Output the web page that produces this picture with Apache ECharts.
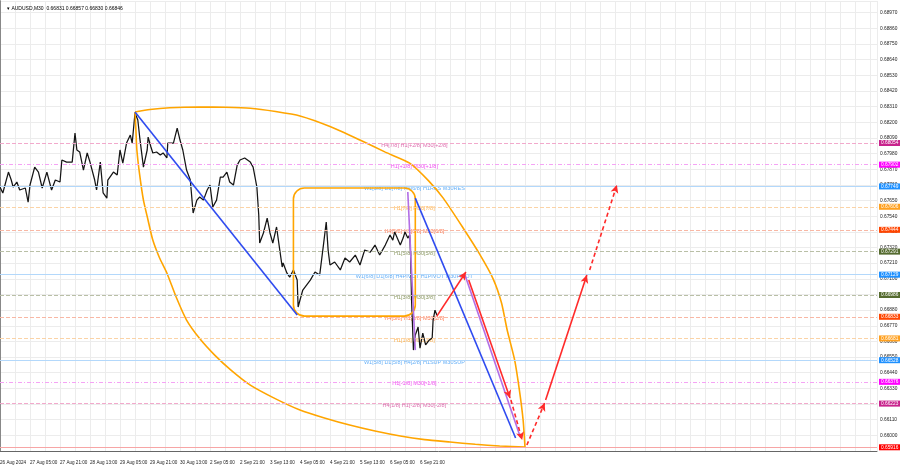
<!DOCTYPE html>
<html>
<head>
<meta charset="utf-8">
<script src="https://cdn.jsdelivr.net/npm/echarts@6.0.0/dist/echarts.min.js"></script>
<style>html,body{margin:0;padding:0;background:#fff}#c{width:900px;height:468px}</style>
</head>
<body>
<div id="c"></div>
<script>
// ---- data (bar index = M30 bars from 26 Aug 13:00) ----
const xTickLabels = ['26 Aug 2024','27 Aug 05:00','27 Aug 21:00','28 Aug 13:00','29 Aug 05:00','29 Aug 21:00','30 Aug 13:00','2 Sep 05:00','2 Sep 21:00','3 Sep 13:00','4 Sep 05:00','4 Sep 21:00','5 Sep 13:00','6 Sep 05:00','6 Sep 21:00'];

const priceBars = [0,3,9,12,14,18,21,27,30,32,37,41,45,50,55,59,64,66,71,77,80,82,85,89,93,96,101,103,107,110,114,115,121,125,128,131,135,139,141,144,
147,149,153,157,158,161,163,167,171,174,178,179,185,189,192,195,199,203,206,210,213,217,221,224,227,231,235,238,242,245,249,253,256,261,267,270,274,276,277,281,285,288,291,295,298,301,302,306,309,313,317,318,
320,323,327,331,336,341,345,348,350,352,357,363,368,373,379,384,389,395,400,405,411,416,419,421,427,430,432,435,437,438,439,441,443,446,448,451,454,458,461,462,464,466];
const priceValues = [0.67745,0.67703,0.67850,0.67794,0.67745,0.67780,0.67724,0.67738,0.67639,0.67759,0.67885,0.67850,0.67738,0.67850,0.67724,0.67794,0.67780,0.67935,0.67920,0.67920,0.68124,0.68005,0.67991,0.67864,0.67984,0.67920,0.67794,0.67724,0.67920,0.67703,0.67667,0.67794,0.67850,0.67829,0.68005,0.67913,0.68054,0.68110,0.68054,0.68265,
0.68216,0.68096,0.67885,0.68005,0.68096,0.68026,0.67984,0.67991,0.67970,0.67984,0.67949,0.68054,0.68054,0.68159,0.68075,0.68005,0.67864,0.67794,0.67562,0.67653,0.67675,0.67653,0.67724,0.67759,0.67604,0.67653,0.67815,0.67815,0.67850,0.67780,0.67759,0.67899,0.67935,0.67949,0.67920,0.67885,0.67745,0.67548,0.67351,0.67422,0.67527,0.67422,0.67351,0.67464,0.67323,0.67183,0.67211,0.67141,0.67112,0.67162,0.67091,0.66902,
0.66951,0.67021,0.67056,0.67091,0.67148,0.67126,0.67337,0.67499,0.67302,0.67197,0.67218,0.67162,0.67246,0.67218,0.67267,0.67197,0.67302,0.67288,0.67337,0.67267,0.67337,0.67408,0.67372,0.67429,0.67337,0.67386,0.67429,0.67386,0.67408,0.67267,0.66951,0.66599,0.66705,0.66761,0.66613,0.66719,0.66635,0.66670,0.66684,0.66810,0.66880,0.66845];

const levelPrices = [0.68054,0.67902,0.67749,0.67606,0.67444,0.67291,0.67129,0.66986,0.66833,0.66681,0.66528,0.66376,0.66223];
const levelTexts = ['H4[7/8] H1[+2/8] M30[+2/8]','H1[+1/8] M30[+1/8]','W1[3/8] D1[7/8] H4[6/8] H1RES M30RES','H1[7/8] M30[7/8]','H4[5/8] H1[6/8] M30[6/8]','H1[5/8] M30[5/8]','W1[6/8] D1[6/8] H4PIVOT H1PIVOT M30PIVOT','H1[3/8] M30[3/8]','H4[3/8] H1[2/8] M30[2/8]','H1[1/8] M30[1/8]','W1[5/8] D1[5/8] H4[2/8] H1SUP M30SUP','H1[-1/8] M30[-1/8]','H4[1/8] H1[-2/8] M30[-2/8]'];
const lowLevel = 0.65916;
const currentPrice = 0.66846;
const titleText = '\u25BE AUDUSD,M30  0.66831 0.66857 0.66830 0.66846';

const arcTop = [[144,0.68272],[160,0.68290],[181,0.68302],[213,0.68307],[240,0.68305],[267,0.68298],[294,0.68275],[320,0.68244],[352,0.68170],[384,0.68075],[411,0.67990],[437,0.67913],[457,0.67790],[473,0.67665],[494,0.67457],[511,0.67280],[526,0.67100],[535,0.66930],[541,0.66740],[549,0.66529],[554,0.66320],[558,0.66108],[560,0.65918]];
const arcBottom = [[144,0.68272],[145,0.68140],[146,0.68005],[149,0.67830],[153,0.67653],[158,0.67510],[163,0.67372],[170,0.67250],[178,0.67141],[188,0.66970],[199,0.66810],[213,0.66680],[229,0.66564],[247,0.66455],[267,0.66353],[293,0.66260],[320,0.66178],[347,0.66120],[373,0.66072],[400,0.66030],[427,0.65995],[453,0.65970],[480,0.65953],[507,0.65937],[533,0.65925],[560,0.65918]];
const rangeBox = [313,0.67738,443,0.66838];

const blueLines = [[[144,0.68272],[317,0.66845]],[[443,0.67667],[550,0.65981]]];
const purpleLines = [[[435,0.67710],[443,0.66599]],[[496,0.67126],[555,0.65988]]];
const redLegs = [ // start, end, dashed
  [[466,0.66838],[497,0.67148],0],
  [[500,0.67091],[544,0.66262],0],
  [[545,0.66248],[557,0.65967],1],
  [[562,0.65932],[581,0.66227],1],
  [[582,0.66248],[626,0.67126],0],
  [[629,0.67162],[658,0.67759],1]
];

// ---- styles ----
const lineColors = ['#f2a9cc','#f5a3f5','#b3d8fb','#fbd3a6','#f8b7a4','#b9bfa6','#b3d8fb','#b9bfa6','#f8b7a4','#fbd3a6','#b3d8fb','#f5a3f5','#f2a9cc'];
const lineTypes = ['dashed',[4,2,1,2],'solid','dashed','dashed','dashed','solid','dashed','dashed','dashed','solid',[4,2,1,2],'dashed'];
const textColors = ['#d4479a','#ee22ee','#3d9bf5','#ff9d1e','#ff5a2a','#6f7f3c','#3d9bf5','#6f7f3c','#ff5a2a','#ff9d1e','#3d9bf5','#ee22ee','#d4479a'];
const boxColors = ['#c8238c','#ff00ff','#1e90ff','#ffa01e','#ff4500','#556b2f','#1e90ff','#556b2f','#ff4500','#ffa01e','#1e90ff','#ff00ff','#c8238c'];
const FONT = 'Liberation Sans, Arial, sans-serif';
const labelBar = 442;

const levelMarks = levelPrices.map((p,i)=>({
  yAxis: p,
  lineStyle: {color: lineColors[i], type: lineTypes[i], width: 1},
  label: {backgroundColor: boxColors[i]}
}));
levelMarks.push({yAxis: lowLevel, lineStyle:{color:'#f7a5a5', type:'solid', width:1}, label:{backgroundColor:'#ff0000'}});
levelMarks.push({yAxis: currentPrice, lineStyle:{opacity:0}, label:{backgroundColor:'#000000'}});

function segMarks(list, color, dashedFlag, withArrow){
  return list.map(s=>[
    {coord: s[0], symbol:'none', lineStyle:{color: color, width:1.6, type: (dashedFlag && s[2]) ? [4,3] : 'solid'}},
    {coord: s[1], symbol: withArrow ? 'arrow' : 'none', symbolSize: withArrow ? [6,8] : 0}
  ]);
}

const chart = echarts.init(document.getElementById('c'), null, {renderer:'canvas'});
chart.setOption({
  animation: false,
  backgroundColor: '#ffffff',
  textStyle: {fontFamily: FONT},
  title: {text: titleText, left: 2, top: 1, textStyle:{fontSize:5, fontWeight:'normal', color:'#000', fontFamily: FONT}},
  grid: {left: 0, right: 23, top: 1, bottom: 17, outerBoundsMode: 'none', containLabel: false},
  xAxis: {
    type: 'value', min: 0, max: 935.5, interval: 16,
    axisLine: {show: true, lineStyle: {color: '#666', width: 1}},
    axisTick: {show: false},
    splitLine: {show: true, lineStyle: {color: '#ececec', width: 1}},
    axisLabel: {
      show: true, fontSize: 4.6, color: '#222', align: 'left', margin: 9, fontFamily: FONT,
      showMinLabel: true, showMaxLabel: false, hideOverlap: false,
      formatter: v => { const k = v/32; return (Number.isInteger(k) && k < xTickLabels.length) ? xTickLabels[k] : ''; }
    }
  },
  yAxis: [{
    type: 'value', position: 'right', min: 0.6589, max: 0.69052, interval: 0.0011,
    axisLine: {show: true, lineStyle: {color: '#666', width: 1}},
    axisTick: {show: false},
    splitLine: {show: true, lineStyle: {color: '#ececec', width: 1}},
    axisLabel: {fontSize: 4.8, color: '#222', margin: 3, showMinLabel: false, showMaxLabel: false, fontFamily: FONT,
      formatter: v => v.toFixed(5)}
  },{
    type: 'value', position: 'left', min: 0.6589, max: 0.69052,
    axisLine: {show: true, lineStyle: {color: '#888', width: 1}},
    axisTick: {show: false}, axisLabel: {show: false}, splitLine: {show: false}
  }],
  series: [
    {
      type: 'scatter', name: 'levelText', silent: true, symbolSize: 0,
      data: levelPrices.map((p,i)=>({value:[labelBar,p], label:{color:textColors[i]}})),
      label: {show: true, position: 'inside', offset: [0,2], fontSize: 5.5, fontFamily: FONT,
        formatter: p => levelTexts[p.dataIndex]}
    },
    {
      type: 'line', name: 'AUDUSD', showSymbol: false, silent: true,
      data: priceBars.map((b,i)=>[b, priceValues[i]]),
      lineStyle: {color: '#151515', width: 1.25}, z: 3,
      markLine: {
        silent: true, symbol: ['none','none'], animation: false, precision: 5,
        label: {show: true, position: 'end', distance: 2, color: '#fff', fontSize: 4.8, padding: [1,2,0,2], fontFamily: FONT,
          formatter: p => Number(p.value).toFixed(5)},
        data: levelMarks
      }
    },
    {type:'line', name:'arcTop', data: arcTop, smooth: 0.2, showSymbol:false, silent:true, lineStyle:{color:'#ffa500', width:1.6}, z:4},
    {type:'line', name:'arcBottom', data: arcBottom, smooth: 0.2, showSymbol:false, silent:true, lineStyle:{color:'#ffa500', width:1.6}, z:4},
    {
      type: 'custom', name: 'box', silent: true, z: 4,
      encode: {x: [0,2], y: [1,3]},
      data: [rangeBox],
      renderItem: (params, api) => {
        const a = api.coord([api.value(0), api.value(1)]);
        const b = api.coord([api.value(2), api.value(3)]);
        return {type:'rect', shape:{x:a[0], y:a[1], width:b[0]-a[0], height:b[1]-a[1], r:11},
          style:{fill:'none', stroke:'#ffa500', lineWidth:1.6}};
      }
    },
    {
      type: 'line', name: 'annotations', data: [], silent: true, z: 5,
      markLine: {
        silent: true, animation: false, precision: 5, label: {show: false},
        data: [].concat(
          segMarks(blueLines, '#2f4bf0', false, false),
          segMarks(purpleLines, '#b26ee6', false, false),
          segMarks(redLegs, '#ff2a2a', true, true)
        )
      }
    }
  ]
});
</script>
</body>
</html>
